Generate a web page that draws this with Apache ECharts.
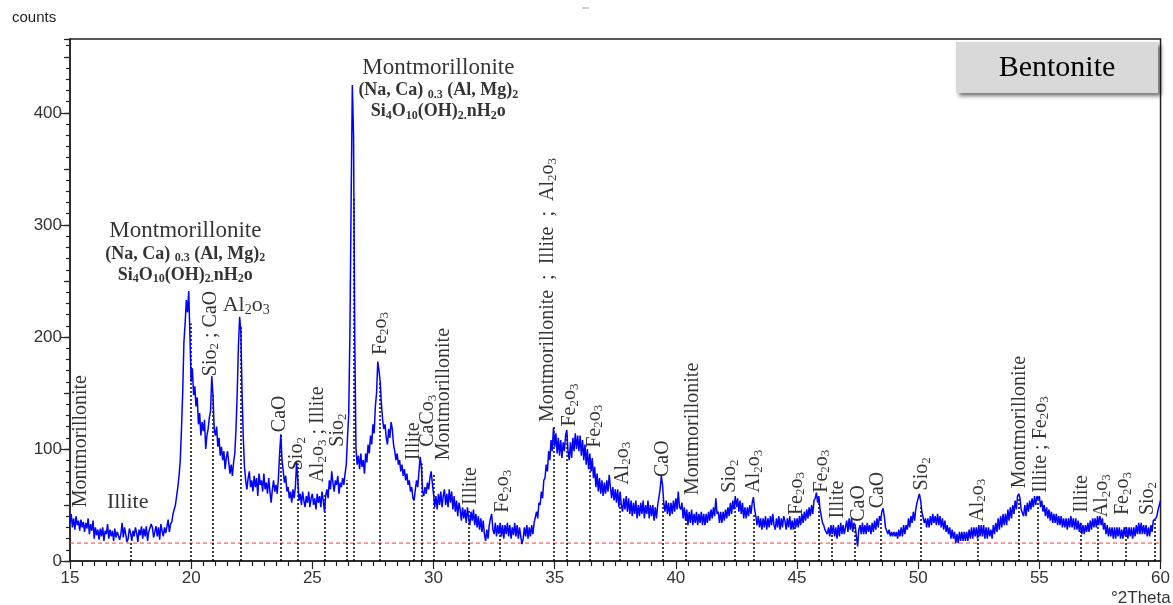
<!DOCTYPE html>
<html><head><meta charset="utf-8">
<script src="https://cdn.jsdelivr.net/npm/echarts@6/dist/echarts.min.js"></script>
<style>html,body{margin:0;padding:0;background:#fff}#c{width:1173px;height:605px}</style>
</head><body><div id="c"></div>
<script>
// ---- scan (°2Theta from 15 to 60, step 0.05; one row per degree) ----
const angleStart = 15;
const angleStep = 0.05;
const counts = [
 33,42,30,38,28,40,32,36,27,37,30,35,26,34,29,38,24,33,27,36,
 20,30,23,28,19,29,22,30,18,27,24,33,20,28,22,27,18,29,21,26,
 27,19,24,34,21,30,24,17,20,29,25,18,27,22,30,25,17,28,23,31,
 20,29,22,31,18,26,25,33,30,21,26,31,22,30,19,33,27,22,30,25,
 31,37,26,33,35,42,42,50,58,66,76,90,118,150,195,212,233,222,241,200,
 160,172,148,156,138,146,122,132,112,124,116,126,100,112,118,128,134,165,148,118,
 112,120,102,110,94,102,90,98,82,92,98,88,78,86,76,88,96,118,150,192,
 218,205,150,110,84,72,64,74,80,66,72,62,76,66,74,58,78,68,72,62,
 78,64,70,60,74,62,52,64,72,62,68,60,74,96,113,90,80,70,76,62,
 66,56,62,52,64,56,66,88,72,54,60,50,62,54,48,58,52,62,48,56,
 60,50,56,46,60,52,58,48,62,54,44,58,64,56,72,64,80,70,62,72,
 68,76,60,70,66,74,68,78,86,110,130,203,320,425,380,200,100,86,94,82,
 96,84,90,78,96,88,104,96,112,104,122,114,138,150,178,170,160,140,126,118,
 122,110,104,118,110,124,118,104,98,90,96,86,90,80,86,76,82,72,78,68,
 72,62,66,56,54,64,72,66,80,93,84,62,58,66,60,70,64,74,80,70,
 60,48,58,46,60,50,62,48,58,64,50,60,48,64,52,62,46,58,44,54,
 40,52,46,36,48,38,46,34,48,38,32,44,36,46,32,42,30,40,28,38,
 26,36,24,18,28,20,32,38,42,28,24,34,22,32,24,34,22,32,20,32,
 24,34,22,32,20,30,23,34,22,32,20,30,22,15,20,30,22,32,20,30,
 22,32,24,34,34,44,38,52,50,62,56,72,74,86,80,98,90,108,98,119,
 102,114,96,110,94,108,92,106,98,112,117,98,90,106,92,110,98,114,100,112,
 98,112,94,108,90,104,86,100,82,96,80,92,74,84,66,78,62,74,60,72,
 58,70,60,72,62,77,66,56,66,54,64,52,64,48,62,50,44,56,46,58,
 44,56,42,54,40,52,42,54,38,50,40,52,42,54,38,50,42,54,38,50,
 40,50,36,48,38,50,50,64,76,68,52,44,54,42,52,40,52,42,54,44,
 56,46,62,48,46,52,38,48,36,46,32,44,34,46,32,42,34,44,32,42,
 34,44,32,42,32,42,34,44,36,46,38,48,40,56,42,44,34,44,34,44,
 36,46,38,48,40,52,42,54,46,58,48,56,44,54,42,52,38,48,38,48,
 40,50,42,52,57,46,40,32,40,30,38,28,38,30,40,28,38,30,40,32,
 42,32,28,38,30,40,28,38,30,40,36,28,38,30,40,28,36,28,38,30,
 38,30,40,32,42,34,44,36,46,38,48,40,50,42,54,56,61,52,58,46,
 46,34,32,28,28,24,30,22,32,24,32,22,30,20,32,22,34,24,32,24,
 30,36,26,38,28,38,26,34,32,22,13,28,32,24,34,24,32,24,34,26,
 32,24,34,26,36,28,38,30,40,36,44,47,40,30,30,24,28,22,26,22,
 26,22,26,20,28,22,30,22,32,24,32,28,38,30,40,34,44,36,46,52,
 56,60,54,44,44,34,38,30,38,30,40,32,42,34,40,32,42,32,40,30,
 38,28,36,26,32,24,30,20,28,20,26,16,24,16,26,18,26,18,26,18,
 26,18,28,20,30,20,30,22,30,20,32,22,32,22,32,20,30,20,30,22,
 28,20,32,24,34,26,38,28,40,30,42,32,42,32,46,36,48,38,50,42,
 54,46,58,60,56,46,46,40,50,40,52,44,54,46,56,48,58,50,58,55,
 58,48,54,44,50,40,48,38,46,36,44,34,42,34,42,32,40,32,40,30,
 38,30,38,28,38,30,40,30,38,28,38,28,36,26,34,24,32,24,32,26,
 34,26,36,28,38,30,38,30,40,32,40,32,38,28,34,24,32,22,30,22,
 30,20,30,20,30,22,30,20,28,20,30,22,30,20,30,22,30,20,30,22,
 32,24,34,24,34,24,32,24,32,22,30,22,32,26,36,36,38,40,46,50,
 54
];
const backgroundLevel = 16;

// ---- reference peak markers (dotted) ----
const markerAngles = [17.5,20.0,20.9,22.05,23.7,24.4,25.5,26.4,26.72,27.8,29.2,29.5,30.0,31.45,32.75,34.95,35.5,36.45,37.7,39.45,40.4,42.45,43.2,44.9,45.9,46.45,47.4,48.45,50.1,52.45,54.15,54.95,56.7,57.4,58.55,59.75];
const markerTops   = [16,212,150,210,114,87,60,72,325,160,54,87,78,45,30,120,114,90,60,54,42,48,42,34,55,28,31,37,48,28,57,55,34,37,31,37];

// ---- vertical phase labels ----
const labelTexts = ['Montmorillonite','Sio_2 ; CaO','CaO','Sio_2','Al_2o_3 ; Illite','Sio_2','Fe_2o_3','Illite','CaCo_3','Montmorillonite','Illite','Fe_2o_3','Montmorillonite  ;  Illite  ;  Al_2o_3','Fe_2o_3','Fe_2o_3','Al_2o_3','CaO','Montmorillonite','Sio_2','Al_2o_3','Fe_2o_3','Fe_2o_3','Illite','CaO','CaO','Sio_2','Al_2o_3','Montmorillonite','Illite ; Fe_2o_3','Illite','Al_2o_3','Fe_2o_3','Sio_2'];
const labelAngles = [15.45,20.79,23.67,24.36,25.23,26.05,27.81,29.17,29.78,30.44,31.55,32.86,34.71,35.62,36.64,37.79,39.44,40.71,42.23,43.21,44.98,46.0,46.7,47.53,48.35,50.15,52.45,54.18,55.04,56.73,57.59,58.45,59.48];
const labelBases  = [48,165,115,81,70,102,184,90,102,90,50,43,124,120,101,68,75,59,61,61,41,61,38,35,47,63,35,65,61,43,39,41,41];

// ---- horizontal labels ----
const hLabelTexts  = ['Illite','Al_2o_3'];
const hLabelAngles = [17.38,22.27];
const hLabelCounts = [52.7,228.6];

// ---- formula blocks ----
const blockTitle = 'Montmorillonite';
const blockLine1 = '(Na, Ca) _0.3 (Al, Mg)_2';
const blockLine2 = 'Si_4O_10(OH)_2.nH_2o';
const blockAngles = [19.76, 30.2];
const blockTops   = [305, 451];

const sampleName = 'Bentonite';
const yTicksMajor = 100;

const SERIF = '"Liberation Serif","Times New Roman",serif';
const SANS = '"Liberation Sans",Arial,sans-serif';

function sub(t){ return t.replace(/_([0-9.]+)/g, '{s|$1}'); }
function subBold(t){
  return t.split(/(_[0-9.]+)/).filter(p=>p.length).map(p=> p[0]==='_' ? '{bs|'+p.slice(1)+'}' : '{b|'+p+'}').join('');
}

const scan = counts.map((c,i)=>[+(angleStart + i*angleStep).toFixed(2), c]);
const chart = echarts.init(document.getElementById('c'));

const subRich = { s:{fontSize:13, lineHeight:10, verticalAlign:'bottom', fontFamily:SERIF, color:'#000'} };

const yAxisBase = {type:'value', min:0, max:466, position:'left', offset:0,
  axisLine:{show:false}, splitLine:{show:false}, axisLabel:{show:false}};

chart.setOption({
  animation:false,
  grid:{left:70, right:7, top:39, bottom:44, show:true, borderColor:'#222', borderWidth:1.5, backgroundColor:'transparent'},
  xAxis:{type:'value', min:15, max:60, interval:5,
    axisLine:{lineStyle:{color:'#222', width:1.5}},
    axisTick:{length:8, lineStyle:{color:'#222', width:1.2}},
    minorTick:{show:true, splitNumber:10, length:5, lineStyle:{color:'#222', width:1.2}},
    splitLine:{show:false}, minorSplitLine:{show:false},
    axisLabel:{fontSize:17, color:'#333', fontFamily:SANS, margin:9}
  },
  yAxis:[
    Object.assign({}, yAxisBase, {interval:yTicksMajor,
      axisLine:{show:true, lineStyle:{color:'#222', width:1.5}},
      axisTick:{length:9, lineStyle:{color:'#222', width:1.2}},
      axisLabel:{show:true, showMaxLabel:false, fontSize:17, color:'#333', fontFamily:SANS, margin:8}}),
    Object.assign({}, yAxisBase, {interval:50, axisTick:{length:6, lineStyle:{color:'#222', width:1.2}}}),
    Object.assign({}, yAxisBase, {interval:10, axisTick:{length:4, lineStyle:{color:'#222', width:1.2}}})
  ],
  graphic:[
    {type:'text', left:12, top:10, style:{text:'counts', fontSize:15, fontFamily:SANS, fill:'#222'}},
    {type:'text', left:1111, top:590, style:{text:'°2Theta', fontSize:17, fontFamily:SANS, fill:'#333'}},
    {type:'line', shape:{x1:582, y1:8, x2:589, y2:8}, style:{stroke:'#999', lineWidth:1}},
    {type:'group', left:956, top:42, children:[
      {type:'rect', shape:{x:0, y:0, width:202, height:51},
       style:{fill:'#d9d9d9', shadowBlur:4, shadowOffsetX:3, shadowOffsetY:3, shadowColor:'rgba(0,0,0,0.55)'}},
      {type:'text', x:101, y:26, style:{text:sampleName, fontSize:30, fontFamily:SERIF, fill:'#000', align:'center', verticalAlign:'middle'}}
    ]}
  ],
  series:[
    { type:'line', name:'background', data:[[15,backgroundLevel],[60,backgroundLevel]],
      showSymbol:false, silent:true, z:1,
      lineStyle:{color:'#ff3b3b', width:1, type:[4,3]} },
    { type:'line', name:'scan', data:scan, showSymbol:false, z:3,
      lineStyle:{color:'#0000ff', width:1.5},
      markLine:{ silent:true, symbol:['none','none'], label:{show:false}, z:2,
        lineStyle:{color:'#000', width:1.5, type:[2,2]},
        data: markerAngles.map((a,i)=>[{coord:[a,0]},{coord:[a,markerTops[i]]}]) } },
    { type:'scatter', name:'vlabels', symbolSize:1, itemStyle:{color:'transparent'}, silent:true, z:5,
      data: labelAngles.map((a,i)=>({value:[a,labelBases[i]], name:labelTexts[i]})),
      label:{show:true, position:'inside', rotate:90, align:'left', verticalAlign:'middle',
        fontSize:20, lineHeight:22, fontFamily:SERIF, color:'#000',
        formatter:p=>sub(p.name), rich:subRich} },
    { type:'scatter', name:'hlabels', symbolSize:1, itemStyle:{color:'transparent'}, silent:true, z:5,
      data: hLabelAngles.map((a,i)=>({value:[a,hLabelCounts[i]], name:hLabelTexts[i]})),
      label:{show:true, position:'inside', align:'center', verticalAlign:'middle',
        fontSize:22, lineHeight:24, fontFamily:SERIF, color:'#000',
        formatter:p=>sub(p.name), rich:{s:{fontSize:14, lineHeight:11, verticalAlign:'bottom', fontFamily:SERIF, color:'#000'}}} },
    { type:'scatter', name:'blocks', symbolSize:1, itemStyle:{color:'transparent'}, silent:true, z:5,
      data: blockAngles.map((a,i)=>[a,blockTops[i]]),
      label:{show:true, position:'inside', align:'center', verticalAlign:'top', color:'#000', fontFamily:SERIF,
        formatter:()=> '{t|'+blockTitle+'}\n'+subBold(blockLine1)+'\n'+subBold(blockLine2),
        rich:{
          t:{fontSize:23, lineHeight:24, fontFamily:SERIF, color:'#000'},
          b:{fontSize:18, lineHeight:21, fontWeight:'bold', fontFamily:SERIF, color:'#000'},
          bs:{fontSize:12, lineHeight:8, fontWeight:'bold', verticalAlign:'bottom', fontFamily:SERIF, color:'#000'}
        }} }
  ]
});
</script></body></html>
